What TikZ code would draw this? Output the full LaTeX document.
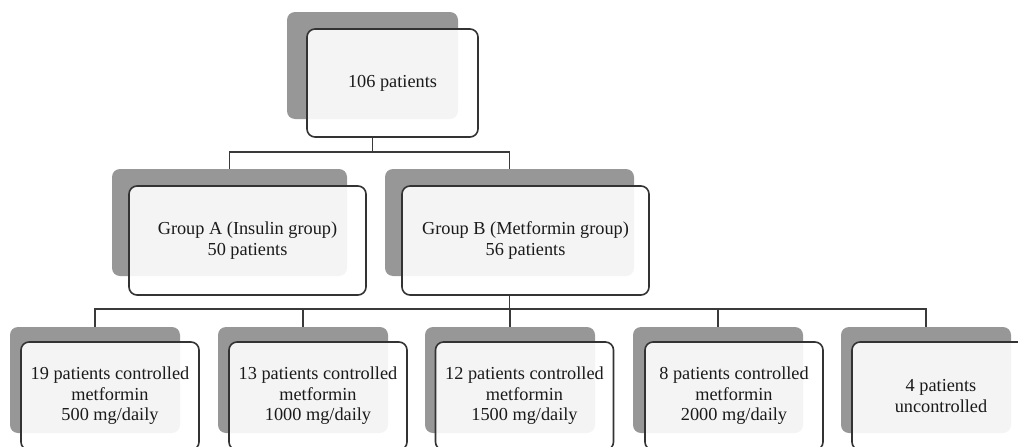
\documentclass[tikz,border=0pt]{standalone}
\usepackage{fontspec}
\setmainfont{Liberation Serif}
\definecolor{shadowgray}{HTML}{979797}
\definecolor{bordercol}{HTML}{333333}
\definecolor{linecol}{HTML}{3A3A3A}
\definecolor{textcol}{HTML}{1A1A1A}
\tikzset{
  shadowbox/.style={rectangle, rounded corners=8pt, fill=shadowgray, inner sep=0pt},
  frontbox/.style={rectangle, rounded corners=8pt, draw=bordercol, line width=1.6pt,
    fill=white, fill opacity=0.9, text opacity=1, text=textcol, align=center, inner sep=0pt,
    font=\fontsize{18.3}{20.5}\selectfont},
  conn/.style={draw=linecol, line width=1.6pt}
}
\begin{document}
\begin{tikzpicture}[x=1pt, y=-1pt]
\useasboundingbox (0,0) rectangle (1018,447);
\clip (0,0) rectangle (1018,447);
% top
\node[shadowbox, minimum width=171pt, minimum height=107pt] (tops) at (372.5,65.5) {};
\node[frontbox, minimum width=171pt, minimum height=108pt] (topf) at (392.5,83) {106 patients};
% level 2
\node[shadowbox, minimum width=235pt, minimum height=107pt] (as) at (229.5,222.5) {};
\node[frontbox, minimum width=237pt, minimum height=109pt] (af) at (247.5,240.5) {Group A (Insulin group)\\50 patients};
\node[shadowbox, minimum width=249pt, minimum height=107pt] (bs) at (509.5,222.5) {};
\node[frontbox, minimum width=247pt, minimum height=109pt] (bf) at (525.5,240.5) {Group B (Metformin group)\\56 patients};
% level 3
\node[shadowbox, minimum width=170pt, minimum height=106pt] (c1s) at (95,380) {};
\node[frontbox, minimum width=178pt, minimum height=108pt] (c1f) at (110,396) {19 patients controlled\\metformin\\500 mg/daily};
\node[shadowbox, minimum width=170pt, minimum height=106pt] (c2s) at (303,380) {};
\node[frontbox, minimum width=178pt, minimum height=108pt] (c2f) at (318,396) {13 patients controlled\\metformin\\1000 mg/daily};
\node[shadowbox, minimum width=170pt, minimum height=106pt] (c3s) at (510,380) {};
\node[frontbox, minimum width=178pt, minimum height=108pt] (c3f) at (524.5,396) {12 patients controlled\\metformin\\1500 mg/daily};
\node[shadowbox, minimum width=170pt, minimum height=106pt] (c4s) at (718,380) {};
\node[frontbox, minimum width=178pt, minimum height=108pt] (c4f) at (734,396) {8 patients controlled\\metformin\\2000 mg/daily};
\node[shadowbox, minimum width=170pt, minimum height=106pt] (c5s) at (926,380) {};
\node[frontbox, minimum width=178pt, minimum height=108pt] (c5f) at (941,396) {4 patients\\uncontrolled};
% connectors
\coordinate (bus1) at (0,152);
\coordinate (bus2) at (0,309);
\draw[conn] (tops |- topf.south) -- (tops |- bus1);
\draw[conn] (as.north) |- (bs |- bus1) -- (bs.north);
\draw[conn] (bs |- bf.south) -- (bs |- bus2);
\draw[conn] (c1s.north) |- (c5s |- bus2) -- (c5s.north);
\draw[conn] (c2s.north) -- (c2s |- bus2);
\draw[conn] (c3s.north) -- (c3s |- bus2);
\draw[conn] (c4s.north) -- (c4s |- bus2);
\end{tikzpicture}
\end{document}
